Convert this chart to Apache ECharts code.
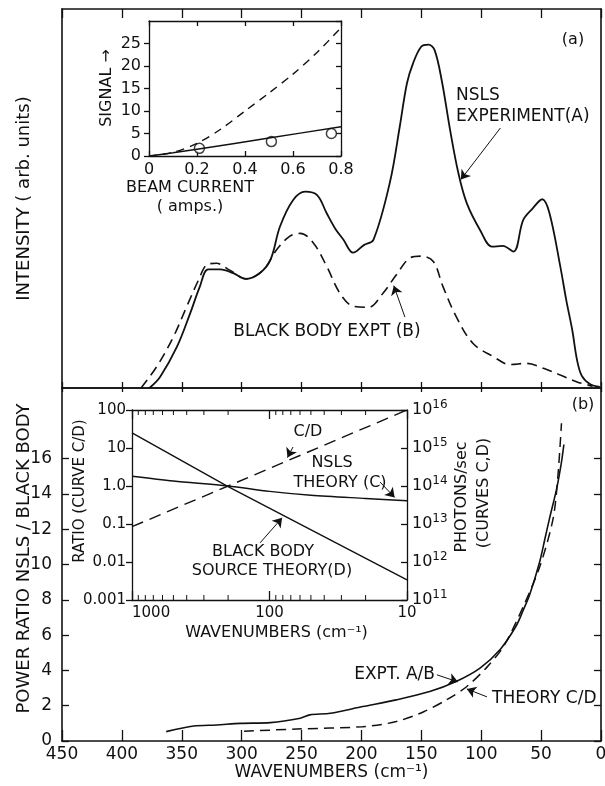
<!DOCTYPE html>
<html><head><meta charset="utf-8">
<script src="https://cdn.jsdelivr.net/npm/echarts@6/dist/echarts.min.js"></script>
<style>html,body{margin:0;padding:0;background:#fff}#c{width:605px;height:786px}</style>
</head><body><div id="c"></div>
<script>
// ---------- DATA ----------
// Panel (a): intensity (arb. units) vs wavenumber (cm^-1)
const nslsExptA = [[377,0],[368,3.0],[354,10.9],[343,19.7],[335,26.7],[328,31.3],[318,31.3],[307,30.3],[297,28.8],[285,30.3],[276,33.8],[268,42.6],[257,49.6],[247,51.8],[237,50.9],[229,46.1],[222,42.1],[215,39.1],[207,35.7],[198,37.7],[190,39.1],[176,54.6],[168,69],[162,80.4],[157,85.6],[150,90.1],[144,90.6],[139,89.2],[133,81.2],[126,68.1],[119,56.6],[112,48.7],[101,41.7],[91,37.3],[82,37.5],[73,36.0],[65,44.3],[57,47.4],[49,49.8],[43,46.1],[34,32.1],[29,23.2],[24,15.3],[20,7.4],[16,3.2],[9,1.0],[1,0.3]];
const blackBodyExptB = [[384,0],[371,5.6],[357,13.5],[346,21.4],[336,28.5],[329,32.5],[321,32.9],[310,31.1],[296,28.8],[282,31.1],[271,36.4],[260,40],[251,40.8],[240,38.2],[229,32.1],[218,25],[207,21.6],[194,21.3],[182,25],[171,29.8],[160,34.2],[150,34.8],[140,33.4],[132,26.8],[121,18.9],[107,11.8],[90,8.3],[76,6.2],[62,6.5],[48,5.2],[34,3.4],[20,1.6],[7,0.5]];
// Inset (a): signal vs beam current (amps)
const signalSolid = [[0,0],[0.1,0.7],[0.2,1.5],[0.5,4.0],[0.8,6.5]];
const signalDashed = [[0,0],[0.1,0.8],[0.2,2.8],[0.3,6],[0.4,10],[0.5,14],[0.6,18.2],[0.7,23],[0.8,28.5]];
const signalPoints = [[0.21,1.7],[0.51,3.2],[0.76,5.0]];
// Panel (b): power ratio NSLS / black body
const ratioExptAB = [[363,0.53],[340,0.85],[321,0.91],[301,1.0],[276,1.04],[251,1.29],[243,1.48],[226,1.57],[199,1.95],[171,2.33],[143,2.8],[121,3.37],[101,4.13],[84,5.2],[71,6.5],[65,7.4],[59.5,8.3],[51,10.2],[47,11.4],[43,12.6],[37,14.3],[33,15.8],[31,16.8]];
const ratioTheoryCD = [[298,0.55],[254,0.68],[199,0.81],[171,1.1],[148,1.66],[129,2.33],[112,3.09],[95,4.2],[81,5.4],[65,7.6],[51,9.9],[40,12.6],[36,15],[33,18]];
// Inset (b): log-log theory curves
const insetRatioCD = [[1000,0.085],[200,1.0],[10,100]];
const insetNslsC = [[1000,1.8e14],[500,1.35e14],[200,1.0e14],[100,7.2e13],[50,5.7e13],[20,4.7e13],[10,4.1e13]];
const insetBlackBodyD = [[1000,2.5e15],[200,9.6e13],[10,3.4e11]];
// Tick values / labels
const powerTickValues = [0,2,4,6,8,10,12,14,16];
const signalTickValues = [0,5,10,15,20,25];
const ratioTickLabels = ['0.001','0.01','0.1','1.0','10','100'];     // exponents -3..2
const photonExponents = ['11','12','13','14','15','16'];            // 10^11..10^16
const insetWaveLabels = ['10','100','1000'];                        // exponents 1..3
const insetMinorTicks = [20,30,40,50,60,70,80,90,200,300,400,500,600,700,800,900];
const RATIO_MIN = 0.001, RATIO_MAX = 100;

// ---------- STYLE ----------
const FONT = 'DejaVu Sans';
const INK = '#111';
const lineAx = {show:true, onZero:false, lineStyle:{color:INK, width:1.6}};
const thinAx = {show:true, onZero:false, lineStyle:{color:INK, width:1.3}};
const noLbl = {show:false};
const noSplit = {show:false};
function tick(inside, len, w){ return {show:true, inside:inside, length:len, lineStyle:{color:INK, width:w||1.3}}; }
function lbl(size, extra){ return Object.assign({show:true, color:INK, fontFamily:FONT, fontSize:size}, extra||{}); }

const chart = echarts.init(document.getElementById('c'), null, {renderer:'canvas'});

function gtext(text, x, y, size, align, valign, rot){
  return {type:'text', x:x, y:y, rotation:rot||0, silent:true,
    style:{text:text, font:size+'px "'+FONT+'"', fill:INK,
      textAlign:align||'center', align:align||'center',
      textVerticalAlign:valign||'middle', verticalAlign:valign||'middle'}};
}
function arrow(from, to){ return [{coord:from},{coord:to}]; }
const arrowML = (list) => ({silent:true, symbol:['none','arrow'], symbolSize:9, animation:false,
  lineStyle:{color:INK, width:1, type:'solid'}, itemStyle:{color:INK}, label:{show:false}, emphasis:{disabled:true}, data:list});

const option = {
  animation:false,
  backgroundColor:'#fff',
  grid:[
    {left:62, top:9, width:539, height:379, outerBoundsMode:'none'},   // panel a
    {left:62, top:388, width:539, height:353, outerBoundsMode:'none'}, // panel b
    {left:149, top:21, width:192, height:135, outerBoundsMode:'none'}, // inset a
    {left:132, top:410, width:275, height:190, outerBoundsMode:'none'} // inset b
  ],
  xAxis:[
    {gridIndex:0, type:'value', min:0, max:450, interval:50, inverse:true, position:'bottom', axisLine:lineAx, axisTick:tick(true,6), axisLabel:noLbl, splitLine:noSplit},
    {gridIndex:0, type:'value', min:0, max:450, interval:50, inverse:true, position:'top', axisLine:lineAx, axisTick:tick(true,9), axisLabel:noLbl, splitLine:noSplit},
    {gridIndex:1, type:'value', min:0, max:450, interval:50, inverse:true, position:'bottom', axisLine:lineAx, axisTick:tick(true,11),
      axisLabel:lbl(17,{margin:5}), splitLine:noSplit,
      name:'WAVENUMBERS (cm\u207B\u00B9)', nameLocation:'middle', nameGap:23, nameMoveOverlap:false, nameTextStyle:{color:INK, fontFamily:FONT, fontSize:17}},
    {gridIndex:1, type:'value', min:0, max:450, interval:50, inverse:true, position:'top', axisLine:lineAx, axisTick:tick(true,4), axisLabel:noLbl, splitLine:noSplit},
    {gridIndex:2, type:'value', min:0, max:0.8, interval:0.2, position:'bottom', axisLine:thinAx, axisTick:tick(true,5),
      axisLabel:lbl(16,{margin:6, formatter:(v)=> v===0?'0':v.toFixed(1)}), splitLine:noSplit},
    {gridIndex:2, type:'value', min:0, max:0.8, interval:0.2, position:'top', axisLine:thinAx, axisTick:tick(true,5), axisLabel:noLbl, splitLine:noSplit},
    {gridIndex:3, type:'log', logBase:10, min:10, max:1000, inverse:true, position:'bottom', axisLine:thinAx, axisTick:tick(true,9),
      axisLabel:lbl(15,{margin:6, alignMaxLabel:'left', formatter:(v)=> insetWaveLabels[Math.round(Math.log10(v))-1]}), splitLine:noSplit,
      name:'WAVENUMBERS (cm\u207B\u00B9)', nameLocation:'middle', nameGap:25, nameMoveOverlap:false, nameTextStyle:{color:INK, fontFamily:FONT, fontSize:16, padding:[0,0,0,14]}},
    {gridIndex:3, type:'log', logBase:10, min:10, max:1000, inverse:true, position:'top', axisLine:thinAx, axisTick:tick(true,9), axisLabel:noLbl, splitLine:noSplit}
  ],
  yAxis:[
    {gridIndex:0, type:'value', min:0, max:100, position:'left', axisLine:lineAx, axisTick:{show:false}, axisLabel:noLbl, splitLine:noSplit,
      name:'INTENSITY ( arb. units)', nameLocation:'middle', nameGap:29, nameMoveOverlap:false, nameRotate:90, nameTextStyle:{color:INK, fontFamily:FONT, fontSize:18}},
    {gridIndex:0, type:'value', min:0, max:100, position:'right', axisLine:lineAx, axisTick:{show:false}, axisLabel:noLbl, splitLine:noSplit},
    {gridIndex:1, type:'value', min:0, max:20, interval:2, position:'left', axisLine:lineAx,
      axisTick:Object.assign(tick(true,7),{customValues:powerTickValues}),
      axisLabel:lbl(17,{margin:10, customValues:powerTickValues, formatter:(v)=> v<=16?String(v):''}), splitLine:noSplit,
      name:'POWER RATIO NSLS / BLACK BODY', nameLocation:'middle', nameGap:29, nameMoveOverlap:false, nameRotate:90, nameTextStyle:{color:INK, fontFamily:FONT, fontSize:18, padding:[0,0,0,12]}},
    {gridIndex:1, type:'value', min:0, max:20, interval:2, position:'right', axisLine:lineAx,
      axisTick:Object.assign(tick(true,7),{customValues:powerTickValues}), axisLabel:noLbl, splitLine:noSplit},
    {gridIndex:2, type:'value', min:0, max:30, interval:5, position:'left', axisLine:thinAx,
      axisTick:Object.assign(tick(false,5),{customValues:signalTickValues}),
      axisLabel:lbl(16,{margin:8, customValues:signalTickValues, formatter:(v)=> v<=25?String(v):''}), splitLine:noSplit},
    {gridIndex:2, type:'value', min:0, max:30, interval:5, position:'right', axisLine:thinAx, axisTick:tick(true,5), axisLabel:noLbl, splitLine:noSplit},
    {gridIndex:3, type:'log', logBase:10, min:RATIO_MIN, max:RATIO_MAX, position:'left', axisLine:thinAx, axisTick:tick(false,6),
      axisLabel:lbl(15,{margin:6, formatter:(v)=> ratioTickLabels[Math.round(Math.log10(v))+3]}), splitLine:noSplit},
    {gridIndex:3, type:'log', logBase:10, min:1e11, max:1e16, position:'right', axisLine:thinAx, axisTick:tick(true,6),
      axisLabel:{show:true, margin:5, formatter:(v)=> '{b|10}{s|'+photonExponents[Math.round(Math.log10(v))-11]+'}',
        rich:{b:{fontFamily:FONT, fontSize:16, color:INK, lineHeight:22}, s:{fontFamily:FONT, fontSize:12, color:INK, lineHeight:12, verticalAlign:'top'}}},
      splitLine:noSplit}
  ],
  series:[
    {type:'line', xAxisIndex:0, yAxisIndex:0, data:nslsExptA, smooth:0.35, showSymbol:false, silent:true,
      lineStyle:{color:INK, width:1.8},
      markLine:arrowML([arrow([84,68.6],[117,55])])},
    {type:'line', xAxisIndex:0, yAxisIndex:0, data:blackBodyExptB, smooth:0.35, showSymbol:false, silent:true,
      lineStyle:{color:INK, width:1.6, type:[10,6]},
      markLine:arrowML([arrow([163.7,18.7],[173,27])])},
    {type:'line', xAxisIndex:4, yAxisIndex:4, data:signalSolid, smooth:0.3, showSymbol:false, silent:true, lineStyle:{color:INK, width:1.5}},
    {type:'line', xAxisIndex:4, yAxisIndex:4, data:signalDashed, smooth:0.3, showSymbol:false, silent:true, lineStyle:{color:INK, width:1.4, type:[8,6]}},
    {type:'scatter', xAxisIndex:4, yAxisIndex:4, data:signalPoints, symbol:'circle', symbolSize:10, silent:true,
      itemStyle:{color:'#fff', borderColor:INK, borderWidth:1.5}},
    {type:'line', xAxisIndex:2, yAxisIndex:2, data:ratioExptAB, smooth:0.3, showSymbol:false, silent:true,
      lineStyle:{color:INK, width:1.6},
      markLine:arrowML([arrow([137,3.75],[119.5,3.35])])},
    {type:'line', xAxisIndex:2, yAxisIndex:2, data:ratioTheoryCD, smooth:0.3, showSymbol:false, silent:true,
      lineStyle:{color:INK, width:1.5, type:[10,6]},
      markLine:arrowML([arrow([95.2,2.5],[112,2.95])])},
    {type:'line', xAxisIndex:6, yAxisIndex:6, data:insetRatioCD, showSymbol:false, silent:true,
      lineStyle:{color:INK, width:1.4, type:[12,7]},
      markLine:arrowML([arrow([67.5,10.6],[74,5.6]), arrow([15.7,1.27],[12.3,0.5]), arrow([117,0.032],[81,0.145])])},
    {type:'line', xAxisIndex:6, yAxisIndex:7, data:insetNslsC, smooth:0.3, showSymbol:false, silent:true, lineStyle:{color:INK, width:1.4}},
    {type:'line', xAxisIndex:6, yAxisIndex:7, data:insetBlackBodyD, showSymbol:false, silent:true, lineStyle:{color:INK, width:1.4}},
    {type:'custom', xAxisIndex:6, yAxisIndex:6, silent:true, data:insetMinorTicks.map(v=>[v,1]),
      renderItem:function(params, api){
        const w = api.value(0);
        const b = api.coord([w, RATIO_MIN]);
        const t = api.coord([w, RATIO_MAX]);
        return {type:'group', children:[
          {type:'line', shape:{x1:b[0],y1:b[1],x2:b[0],y2:b[1]-5}, style:{stroke:INK, lineWidth:1}},
          {type:'line', shape:{x1:t[0],y1:t[1],x2:t[0],y2:t[1]+5}, style:{stroke:INK, lineWidth:1}}
        ]};
      }}
  ],
  graphic:[
    gtext('(a)', 573, 40, 16),
    gtext('NSLS', 456, 96, 17, 'left'),
    gtext('EXPERIMENT(A)', 456, 117, 17, 'left'),
    gtext('BLACK BODY EXPT (B)', 327, 332, 17),
    gtext('(b)', 583, 405, 16),
    gtext('EXPT. A/B', 435, 675, 17, 'right'),
    gtext('THEORY C/D', 492, 699, 17, 'left'),
    gtext('SIGNAL \u2192', 107, 88, 16, 'center', 'middle', Math.PI/2),
    gtext('BEAM CURRENT', 190, 188, 16),
    gtext('( amps.)', 190, 207, 16),
    gtext('C/D', 308, 432, 16),
    gtext('NSLS', 332, 463, 16),
    gtext('THEORY (C)', 340, 483, 16),
    gtext('BLACK BODY', 263, 552, 16),
    gtext('SOURCE THEORY(D)', 272, 571, 16),
    gtext('RATIO (CURVE C/D)', 80, 491, 15, 'center', 'middle', Math.PI/2),
    gtext('PHOTONS/sec', 462, 497, 16, 'center', 'middle', Math.PI/2),
    gtext('(CURVES C,D)', 484, 493, 16, 'center', 'middle', Math.PI/2)
  ]
};
chart.setOption(option);
</script></body></html>
